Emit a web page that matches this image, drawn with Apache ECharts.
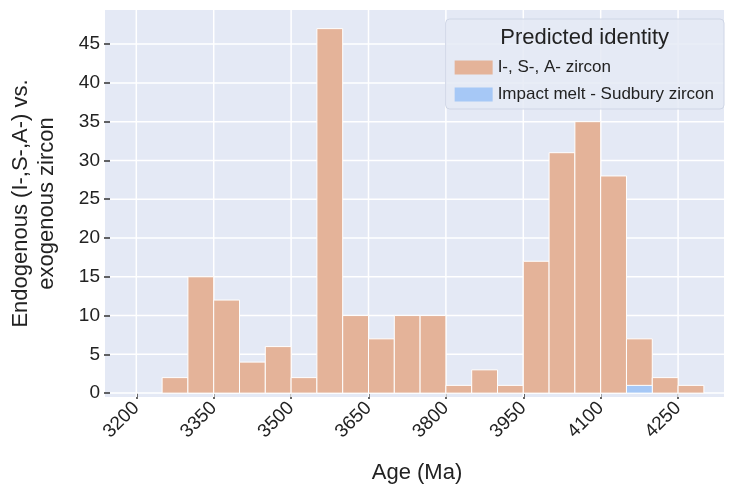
<!DOCTYPE html>
<html><head><meta charset="utf-8">
<script src="https://cdn.jsdelivr.net/npm/echarts@6/dist/echarts.min.js"></script>
<style>body{margin:0}#c{width:742px;height:496px}</style></head>
<body><div id="c"></div>
<script>
// bin edges start at 3250, width 50 Ma
var binStart = 3250, binWidth = 50;
var endoCounts = [2,15,12,4,6,2,47,10,7,10,10,1,3,1,17,31,35,28,7,2,1];
var impactCounts = [0,0,0,0,0,0,0,0,0,0,0,0,0,0,0,0,0,0,1,0,0];
var xTicks = [3200,3350,3500,3650,3800,3950,4100,4250];
var yTicks = [0,5,10,15,20,25,30,35,40,45];
var xMin = 3149, xMax = 4339, yMin = -0.5, yMax = 49.4;

function toBins(arr){
  return arr.map(function(v,i){ return [binStart+i*binWidth, binStart+(i+1)*binWidth, v]; }).filter(function(d){return d[2]>0;});
}
function rectItem(fill){
  return function(params, api){
    var p0 = api.coord([api.value(0), api.value(2)]);
    var p1 = api.coord([api.value(1), 0]);
    return {type:'rect', shape:{x:p0[0], y:p0[1], width:p1[0]-p0[0], height:p1[1]-p0[1]},
      style:{fill:fill, stroke:'#ffffff', lineWidth:1}};
  };
}
var font = 'Liberation Sans';
var chart = echarts.init(document.getElementById('c'));
chart.setOption({
  textStyle:{fontFamily:font},
  grid:{left:105, right:18, top:10, bottom:99},
  xAxis:{type:'value', min:xMin, max:xMax,
    name:'Age (Ma)', nameLocation:'middle', nameGap:65,
    nameTextStyle:{fontSize:22, color:'#222'},
    axisLine:{show:false},
    axisTick:{show:true, customValues:xTicks, length:6, lineStyle:{color:'#333', width:1.5}},
    axisLabel:{customValues:xTicks, rotate:45, fontSize:19, color:'#222', margin:8, formatter:function(v){return String(v);}},
    splitLine:{show:false}},
  yAxis:{type:'value', min:yMin, max:yMax,
    name:'Endogenous (I-,S-,A-) vs.\nexogenous zircon', nameLocation:'middle', nameGap:50,
    nameTextStyle:{fontSize:22, color:'#222', lineHeight:26},
    axisLine:{show:false},
    axisTick:{show:true, customValues:yTicks, length:6, lineStyle:{color:'#333', width:1.5}},
    axisLabel:{customValues:yTicks, fontSize:19, color:'#222', margin:10},
    splitLine:{show:false}},
  graphic:[{type:'rect', z:-10, shape:{x:105,y:10,width:619,height:387}, style:{fill:'#e4e9f5'}}],
  series:[
    {type:'custom', silent:true, z:1, renderItem:function(params, api){
      var lines=[];
      xTicks.forEach(function(t){var a=api.coord([t,yMin]),b=api.coord([t,yMax]);lines.push({type:'line',shape:{x1:a[0],y1:a[1],x2:b[0],y2:b[1]},style:{stroke:'#fff',lineWidth:1.5}});});
      yTicks.forEach(function(t){var a=api.coord([xMin,t]),b=api.coord([xMax,t]);lines.push({type:'line',shape:{x1:a[0],y1:a[1],x2:b[0],y2:b[1]},style:{stroke:'#fff',lineWidth:1.5}});});
      return params.dataIndex===0?{type:'group',children:lines}:null;
    }, data:[[0]]},
    {name:'I-, S-, A- zircon', type:'custom', z:2, renderItem:rectItem('#e4b399'), data:toBins(endoCounts), itemStyle:{color:'#e4b399'}},
    {name:'Impact melt - Sudbury zircon', type:'custom', z:3, renderItem:rectItem('#a6c8f6'), data:toBins(impactCounts), itemStyle:{color:'#a6c8f6'}}
  ],
  legend:{data:['I-, S-, A- zircon','Impact melt - Sudbury zircon'], orient:'vertical', right:18, top:19,
    padding:[40,10,6,9], itemWidth:38, itemHeight:14, itemGap:10, icon:'rect',
    backgroundColor:'rgba(229,234,245,0.85)', borderColor:'#cfd6e6', borderWidth:1, borderRadius:4,
    textStyle:{fontSize:17, color:'#222'}},
  title:{text:'Predicted identity', right:68, top:22, textStyle:{fontSize:22, fontWeight:'normal', color:'#222'}}
});
</script></body></html>
